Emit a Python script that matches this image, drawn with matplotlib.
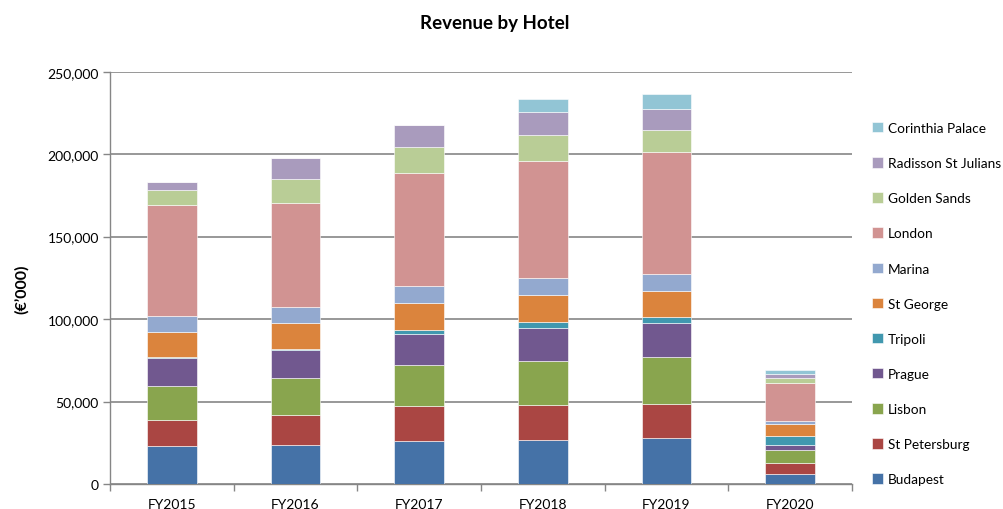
import matplotlib
matplotlib.use("Agg")
import matplotlib.pyplot as plt
import numpy as np

plt.rcParams['font.family'] = ['Lato', 'DejaVu Sans']

years = ["FY2015", "FY2016", "FY2017", "FY2018", "FY2019", "FY2020"]
hotels = ["Budapest", "St Petersburg", "Lisbon", "Prague", "Tripoli", "St George",
          "Marina", "London", "Golden Sands", "Radisson St Julians", "Corinthia Palace"]

budapest = [22800, 23400, 25800, 26600, 27800, 5800]
st_petersburg = [16100, 18550, 21500, 21500, 20900, 7050]
lisbon = [20600, 22200, 24600, 26200, 28600, 7650]
prague = [16700, 16950, 19100, 20200, 20400, 3200]
tripoli = [1000, 800, 2450, 3800, 3400, 5250]
st_george = [15150, 15900, 16300, 16300, 16100, 7450]
marina = [9500, 9700, 10500, 10300, 9900, 2000]
london = [67500, 62900, 68100, 70700, 74300, 22750]
golden_sands = [9100, 14500, 15700, 15900, 13100, 3200]
radisson = [4400, 12750, 13900, 14100, 13100, 2200]
corinthia = [0, 0, 0, 8000, 8600, 2800]

series = [budapest, st_petersburg, lisbon, prague, tripoli, st_george,
          marina, london, golden_sands, radisson, corinthia]
colors = ["#4572A7", "#AA4643", "#89A54E", "#71588F", "#4198AF", "#DB843D",
          "#93A9CF", "#D19392", "#B9CD96", "#A99BBD", "#92C5D5"]

fig = plt.figure(figsize=(10.04, 5.10), dpi=100)
ax = fig.add_axes([110/1004, 25/510, 742/1004, 412.3/510])

x = np.arange(len(years))
bottom = np.zeros(len(years))
handles = []
for name, vals, c in zip(hotels, series, colors):
    v = np.array(vals, dtype=float)
    h = ax.bar(x, v, width=0.4, bottom=bottom, color=c, edgecolor="white",
               linewidth=0.4, label=name, zorder=3)
    handles.append(h)
    bottom += v

ax.set_xlim(-0.5, len(years) - 0.5)
ax.set_ylim(0, 250000)
ax.set_yticks(np.arange(0, 250001, 50000))
ax.yaxis.set_major_formatter(matplotlib.ticker.FuncFormatter(lambda v, p: f"{int(v):,}"))
ax.set_xticks(x)
ax.set_xticklabels(years)
ax.set_xticks(np.arange(-0.5, len(years), 1.0), minor=True)
ax.tick_params(axis="x", which="major", length=0, pad=10, labelsize=10, colors="black")
ax.tick_params(axis="x", which="minor", length=5, width=1, color="#868686", direction="out")
ax.tick_params(axis="y", length=5, width=1, color="#868686", labelsize=10, pad=3)
ax.grid(axis="y", color="#868686", linewidth=1.2, zorder=0)
for s in ["top", "right"]:
    ax.spines[s].set_visible(False)
for s in ["left", "bottom"]:
    ax.spines[s].set_color("#868686")
    ax.spines[s].set_linewidth(1.0)

fig.text(22/1004, 1 - 289/510, "(€’000)", rotation=90, ha="center", va="center",
         fontsize=11.5, fontweight="bold")
fig.text(495/1004, 1 - 24/510, "Revenue by Hotel", ha="center", va="center",
         fontsize=13.5, fontweight="bold")

leg = fig.legend(handles[::-1], hotels[::-1], loc="upper left",
                 bbox_to_anchor=(872/1004, 1 - 123/510), frameon=False,
                 fontsize=9.8, handlelength=0.8, handleheight=0.8,
                 handletextpad=0.35, labelspacing=1.70, borderaxespad=0,
                 borderpad=0)

fig.savefig("out.png", dpi=100)
